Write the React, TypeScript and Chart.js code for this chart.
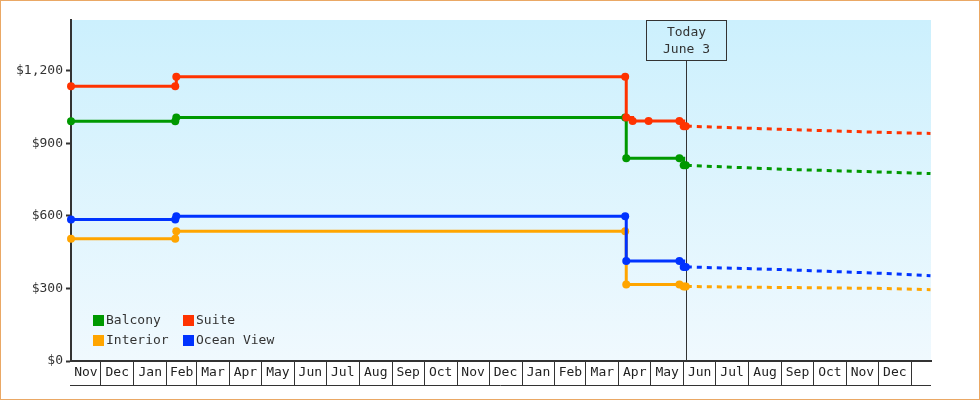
import React, { useEffect, useRef } from 'react';
import { Chart, registerables } from 'chart.js';

Chart.register(...registerables);

const FONT = "'DejaVu Sans Mono', 'Liberation Mono', monospace";

// ---- data ----
const suiteDates = ['2022-11-03', '2023-02-09', '2023-02-10', '2024-04-07', '2024-04-08', '2024-04-14', '2024-04-29', '2024-05-28', '2024-06-01', '2024-06-03'];
const suiteValues = [1136, 1136, 1175, 1175, 1007, 992, 992, 992, 971, 971];

const stepDates = ['2022-11-03', '2023-02-09', '2023-02-10', '2024-04-07', '2024-04-08', '2024-05-28', '2024-06-01', '2024-06-03'];
const balconyValues = [991, 991, 1007, 1007, 838, 838, 809, 809];
const oceanViewValues = [585, 585, 599, 599, 414, 414, 389, 389];
const interiorValues = [506, 506, 537, 537, 316, 316, 308, 308];

const projectionDates = ['2024-06-03', '2024-09-01', '2024-12-07', '2025-01-19'];
const suiteProjection = [971, 958, 945, 941];
const balconyProjection = [809, 793, 781, 775];
const oceanViewProjection = [389, 378, 362, 353];
const interiorProjection = [308, 304, 300, 295];

const legendOrder = ['Balcony', 'Suite', 'Interior', 'Ocean View'];
const seriesColors: Record<string, string> = {
  Balcony: '#009900',
  Suite: '#ff3300',
  Interior: '#ffa500',
  'Ocean View': '#0033ff',
};

const monthLabels = ['Nov', 'Dec', 'Jan', 'Feb', 'Mar', 'Apr', 'May', 'Jun', 'Jul', 'Aug', 'Sep', 'Oct', 'Nov', 'Dec',
  'Jan', 'Feb', 'Mar', 'Apr', 'May', 'Jun', 'Jul', 'Aug', 'Sep', 'Oct', 'Nov', 'Dec'];
const yTickValues = [0, 300, 600, 900, 1200];

const todayDate = '2024-06-03';
const todayLines = ['Today', 'June 3'];

const axisStartDate = '2022-11-03';
const axisEndDate = '2025-01-19';
const yMax = 1410;

// ---- helpers ----
const BASE = Date.UTC(2022, 10, 1);
const dayOf = (s: string) => {
  const [y, m, d] = s.split('-').map(Number);
  return (Date.UTC(y, m - 1, d) - BASE) / 86400000;
};
const X_MIN = dayOf(axisStartDate);
const X_MAX = dayOf(axisEndDate) + 0.5;

const toPoints = (dates: string[], values: number[]) => dates.map((d, i) => ({ x: dayOf(d), y: values[i] }));

// month boundaries & label ticks
const xTicks: { value: number; label: string }[] = [];
monthLabels.forEach((lab, i) => {
  const start = (Date.UTC(2022, 10 + i, 1) - BASE) / 86400000;
  const end = (Date.UTC(2022, 11 + i, 1) - BASE) / 86400000;
  const s = Math.max(start, X_MIN);
  const e = Math.min(end, X_MAX);
  xTicks.push({ value: (s + e) / 2, label: lab });
  if (end < X_MAX) xTicks.push({ value: end, label: '' });
});
xTicks.sort((a, b) => a.value - b.value);

const bgPlugin = {
  id: 'areaBg',
  beforeDraw(chart: any) {
    const { ctx, chartArea: a } = chart;
    const g = ctx.createLinearGradient(0, a.top, 0, a.bottom);
    g.addColorStop(0, '#ccf0fd');
    g.addColorStop(1, '#f0f9fe');
    ctx.save();
    ctx.fillStyle = g;
    ctx.fillRect(a.left, a.top, a.right - a.left, a.bottom - a.top);
    ctx.restore();
  },
};

const monthBoxPlugin = {
  id: 'monthBox',
  afterDraw(chart: any) {
    const { ctx, chartArea: a } = chart;
    const xs = chart.scales.x;
    const y = Math.round(xs.top + 24) + 0.5;
    ctx.save();
    ctx.strokeStyle = '#333';
    ctx.lineWidth = 1;
    ctx.beginPath();
    ctx.moveTo(a.left - 1, y);
    ctx.lineTo(a.right, y);
    ctx.stroke();
    ctx.restore();
  },
};

const todayPlugin = {
  id: 'todayMarker',
  beforeDatasetsDraw(chart: any) {
    const { ctx, chartArea: a } = chart;
    const x = Math.round(chart.scales.x.getPixelForValue(dayOf(todayDate))) + 0.5;
    const top = a.top + 0.5;
    ctx.save();
    ctx.strokeStyle = '#333';
    ctx.lineWidth = 1;
    ctx.strokeRect(x - 40, top, 80, 40);
    ctx.beginPath();
    ctx.moveTo(x, top + 40);
    ctx.lineTo(x, a.bottom);
    ctx.stroke();
    ctx.fillStyle = '#333';
    ctx.font = `13px ${FONT}`;
    ctx.textAlign = 'center';
    ctx.textBaseline = 'middle';
    ctx.fillText(todayLines[0], x, a.top + 12.5);
    ctx.fillText(todayLines[1], x, a.top + 30);
    ctx.restore();
  },
};

const legendPlugin = {
  id: 'cornerLegend',
  afterDatasetsDraw(chart: any) {
    const { ctx, chartArea: a } = chart;
    ctx.save();
    ctx.font = `13px ${FONT}`;
    ctx.textBaseline = 'middle';
    ctx.textAlign = 'left';
    legendOrder.forEach((name, i) => {
      const col = i % 2;
      const row = Math.floor(i / 2);
      const x = a.left + 22 + col * 90;
      const y = a.bottom - 46 + row * 20;
      ctx.fillStyle = seriesColors[name];
      ctx.fillRect(x, y, 11, 11);
      ctx.fillStyle = '#333';
      ctx.fillText(name, x + 13, y + 6);
    });
    ctx.restore();
  },
};

const stepSet = (label: string, dates: string[], values: number[]) => ({
  label,
  data: toPoints(dates, values),
  borderColor: seriesColors[label],
  backgroundColor: seriesColors[label],
  borderWidth: 3,
  stepped: true,
  pointRadius: 4,
  pointBorderWidth: 0,
  pointBackgroundColor: seriesColors[label],
  clip: false as any,
});

const projSet = (label: string, values: number[]) => ({
  label: label + ' projection',
  data: toPoints(projectionDates, values),
  borderColor: seriesColors[label],
  backgroundColor: seriesColors[label],
  borderWidth: 3,
  borderDash: [5, 5],
  borderDashOffset: -11,
  pointRadius: 0,
  tension: 0,
});

export default function App() {
  const ref = useRef<HTMLCanvasElement>(null);
  useEffect(() => {
    document.body.style.margin = '0';
    const chart = new Chart(ref.current as HTMLCanvasElement, {
      type: 'line',
      data: {
        datasets: [
          stepSet('Suite', suiteDates, suiteValues),
          stepSet('Ocean View', stepDates, oceanViewValues),
          stepSet('Balcony', stepDates, balconyValues),
          stepSet('Interior', stepDates, interiorValues),
          projSet('Suite', suiteProjection),
          projSet('Ocean View', oceanViewProjection),
          projSet('Balcony', balconyProjection),
          projSet('Interior', interiorProjection),
        ] as any,
      },
      options: {
        responsive: false,
        animation: false,
        devicePixelRatio: 1,
        layout: { padding: { top: 20, right: 49, bottom: 0, left: 0 } },
        plugins: { legend: { display: false }, tooltip: { enabled: false } },
        scales: {
          x: {
            type: 'linear',
            min: X_MIN,
            max: X_MAX,
            afterBuildTicks: (s: any) => {
              s.ticks = xTicks.map((t) => ({ value: t.value }));
            },
            afterFit: (s: any) => {
              s.height = 39;
            },
            grid: {
              drawOnChartArea: false,
              drawTicks: true,
              tickLength: 24,
              tickWidth: (c: any) => (xTicks[c.index] && xTicks[c.index].label === '' ? 1 : 0),
              tickColor: '#333',
            },
            border: { display: true, color: '#333', width: 2 },
            ticks: {
              autoSkip: false,
              maxRotation: 0,
              minRotation: 0,
              padding: -20,
              color: '#222',
              font: { family: FONT, size: 13 },
              callback: (_v: any, i: number) => (xTicks[i] ? xTicks[i].label : ''),
            },
          },
          y: {
            type: 'linear',
            min: 0,
            max: yMax,
            afterBuildTicks: (s: any) => {
              s.ticks = yTickValues.map((v) => ({ value: v }));
            },
            afterFit: (s: any) => {
              s.width = 71;
            },
            grid: { drawOnChartArea: false, drawTicks: true, tickLength: 5, tickWidth: 2, tickColor: '#333' },
            border: { display: true, color: '#333', width: 2 },
            ticks: {
              padding: 3,
              color: '#333',
              font: { family: FONT, size: 13 },
              callback: (v: any) => '$' + Number(v).toLocaleString('en-US'),
            },
          },
        },
      },
      plugins: [bgPlugin, todayPlugin, legendPlugin, monthBoxPlugin],
    });
    return () => chart.destroy();
  }, []);

  return (
    <div style={{ position: 'absolute', left: 0, top: 0, width: 980, height: 400 }}>
      <canvas ref={ref} width={980} height={400} style={{ display: 'block', width: 980, height: 400 }} />
      <div
        style={{
          position: 'absolute',
          left: 0,
          top: 0,
          width: 980,
          height: 400,
          border: '1px solid #eaa865',
          boxSizing: 'border-box',
          pointerEvents: 'none',
        }}
      />
    </div>
  );
}
